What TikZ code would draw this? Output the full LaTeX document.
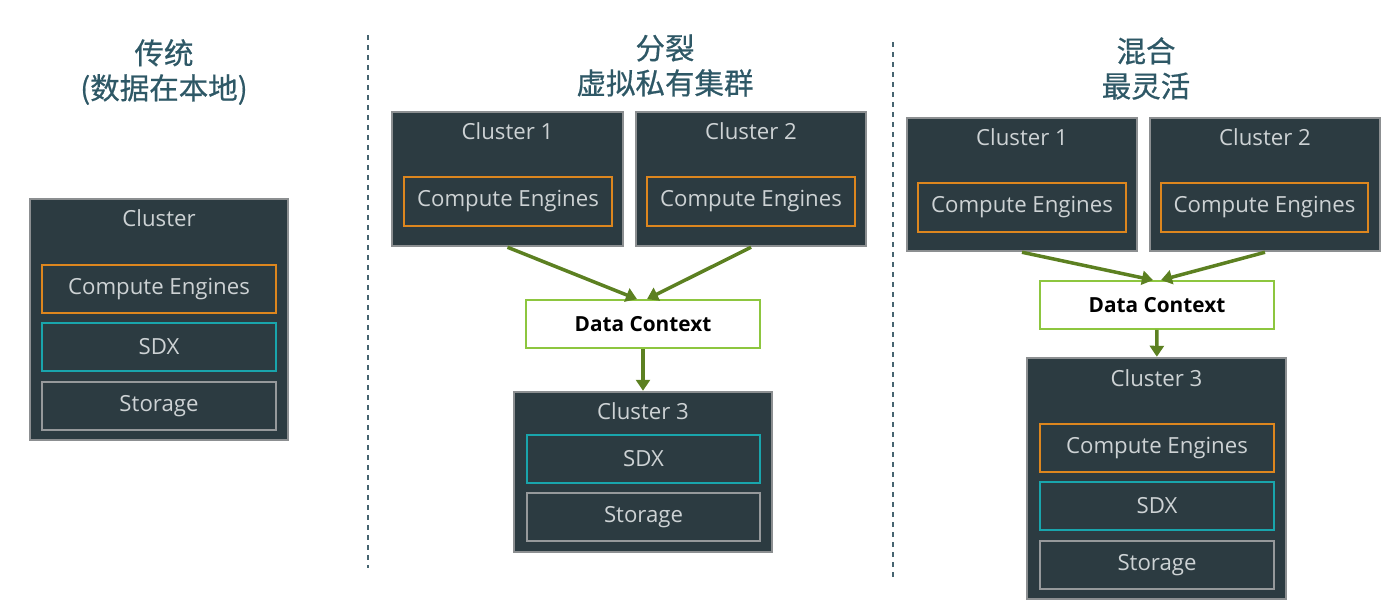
\documentclass[tikz,border=0pt]{standalone}
\usepackage{fontspec}
\setmainfont{Open Sans}
\newfontfamily\cjk[FakeBold=0.6]{Noto Sans CJK SC}
\usetikzlibrary{arrows.meta,positioning}
\definecolor{boxbg}{RGB}{44,59,65}
\definecolor{clgray}{RGB}{140,143,145}
\definecolor{txtgray}{RGB}{205,210,212}
\definecolor{ceorange}{RGB}{221,134,30}
\definecolor{sdxteal}{RGB}{25,165,172}
\definecolor{stgray}{RGB}{150,153,155}
\definecolor{ctxgreen}{RGB}{141,198,63}
\definecolor{arrgreen}{RGB}{92,128,33}
\definecolor{ttlblue}{RGB}{46,88,102}
\definecolor{sepblue}{RGB}{70,100,112}

\begin{document}
\begin{tikzpicture}[
    x=1pt, y=-1pt,
    cluster/.style={draw=clgray, line width=2.5pt, fill=boxbg},
    inner/.style={line width=1.8pt, fill=boxbg, text=txtgray, font=\fontsize{22.2}{25}\selectfont},
    engine/.style={inner, draw=ceorange},
    sdx/.style={inner, draw=sdxteal},
    storage/.style={inner, draw=stgray},
    lbl/.style={text=txtgray, font=\fontsize{22.2}{25}\selectfont},
    ctx/.style={draw=ctxgreen, line width=1.8pt, fill=white, minimum width=234, minimum height=48, font=\bfseries\fontsize{20.8}{24}\selectfont},
    ttl/.style={align=center, text=ttlblue, font=\cjk\fontsize{29.5}{35}\selectfont},
    sep/.style={dashed, dash pattern=on 5pt off 5pt, line width=1.5pt, sepblue},
    arr/.style={-{Triangle[length=11pt,width=14pt]}, line width=3.5pt, arrgreen}
]
\useasboundingbox (0,0) rectangle (1400,614);

% separators
\draw[sep] (368,35) -- (368,568);
\draw[sep] (893,42) -- (893,578);

% traditional
\node[ttl] (l-ttl) at (164,72) {传统\\(数据在本地)};
\node[cluster, minimum width=258, minimum height=241] (l) at (159,319.5) {};
\node[lbl] (l-lbl) at (159,218) {Cluster};
\node[engine, minimum width=234, minimum height=48] (l-ce) at (159,289) {Compute Engines};
\node[sdx, minimum width=234, minimum height=48] (l-sdx) at (159,347) {SDX};
\node[storage, minimum width=234, minimum height=48] (l-st) at (159,406) {Storage};

% split
\node[ttl] (m-ttl) at (665,65.5) {分裂\\虚拟私有集群};
\node[cluster, minimum width=231, minimum height=134] (m1) at (507.5,179) {};
\node[lbl] (m1-lbl) at (507.5,131) {Cluster 1};
\node[engine, minimum width=208, minimum height=49] (m1-ce) at (508,201.5) {Compute Engines};
\node[cluster, minimum width=230, minimum height=134] (m2) at (751,179) {};
\node[lbl] (m2-lbl) at (751,131) {Cluster 2};
\node[engine, minimum width=208, minimum height=49] (m2-ce) at (751,201.5) {Compute Engines};
\node[ctx] (mdc) at (643,324) {Data Context};
\node[cluster, minimum width=258, minimum height=160] (m3) at (643,472) {};
\node[lbl] (m3-lbl) at (643,411) {Cluster 3};
\node[sdx, minimum width=233, minimum height=48] (m3-sdx) at (643.5,459) {SDX};
\node[storage, minimum width=233, minimum height=48] (m3-st) at (643.5,517) {Storage};

\draw[arr] (m1.south) -- ([xshift=-6pt]mdc.north);
\draw[arr] (m2.south) -- ([xshift=4pt]mdc.north);
\draw[arr] (mdc) -- (m3);

% hybrid
\node[ttl] (r-ttl) at (1146,68.5) {混合\\最灵活};
\node[cluster, minimum width=230, minimum height=133] (r1) at (1022,184.5) {};
\node[lbl] (r1-lbl) at (1022,137) {Cluster 1};
\node[engine, minimum width=208, minimum height=49] (r1-ce) at (1022,207.5) {Compute Engines};
\node[cluster, minimum width=230, minimum height=133] (r2) at (1265,184.5) {};
\node[lbl] (r2-lbl) at (1265,137) {Cluster 2};
\node[engine, minimum width=207, minimum height=49] (r2-ce) at (1264.5,207.5) {Compute Engines};
\node[ctx] (rdc) at (1157,305) {Data Context};
\node[cluster, minimum width=259, minimum height=241] (r3) at (1156.5,478.5) {};
\node[lbl] (r3-lbl) at (1156.5,378) {Cluster 3};
\node[engine, minimum width=234, minimum height=48] (r3-ce) at (1157,448) {Compute Engines};
\node[sdx, minimum width=234, minimum height=48] (r3-sdx) at (1157,506) {SDX};
\node[storage, minimum width=234, minimum height=48] (r3-st) at (1157,565) {Storage};

\draw[arr] (r1.south) -- ([xshift=-4pt]rdc.north);
\draw[arr] (r2.south) -- ([xshift=4pt]rdc.north);
\draw[arr] (rdc) -- (r3);
\end{tikzpicture}
\end{document}
